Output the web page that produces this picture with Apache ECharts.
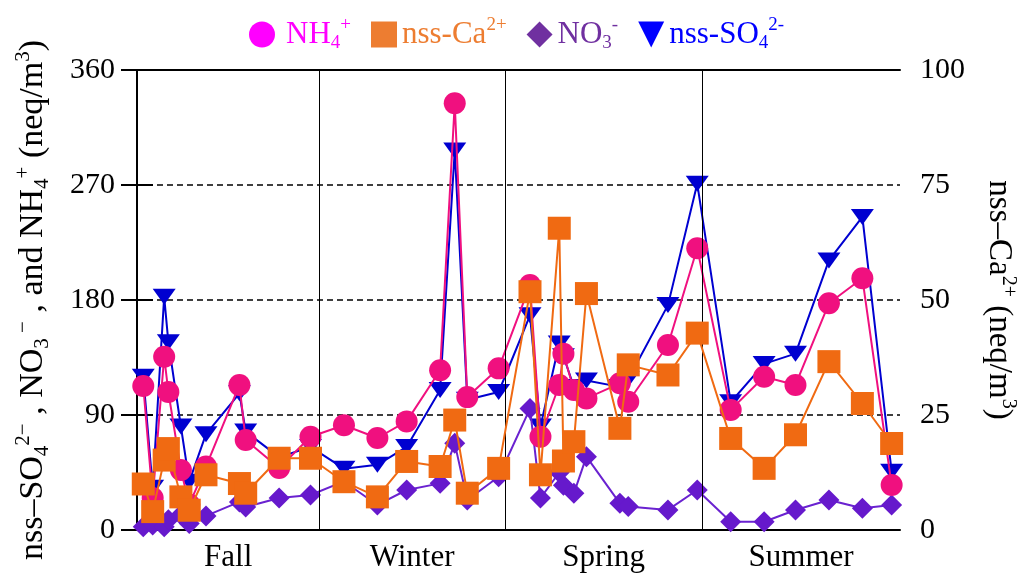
<!DOCTYPE html>
<html><head><meta charset="utf-8">
<script src="https://cdn.jsdelivr.net/npm/echarts@6/dist/echarts.min.js"></script>
<style>html,body{margin:0;padding:0;background:#fff}#c{width:1026px;height:581px}</style>
</head><body><div id="c"></div>
<script>
// x positions: day of the sampling year (0..365)
const seasonNames = ['Fall', 'Winter', 'Spring', 'Summer'];
const seasonCenters = [43.6, 131.6, 223.2, 317.7];
const seasonBounds = [87.1, 176.1, 270.3];
const sampleDays = [3, 7.5, 13, 15, 21, 25, 33, 49, 52, 68, 83,
  99, 115, 129, 145, 152, 158, 173,
  188, 193, 202, 204, 209, 215, 231, 235, 254, 268,
  284, 300, 315, 331, 347, 361];
// left axis (neq/m3)
const nh4 = [112.7, 25, 135.6, 108, 47, 20, 49.6, 113.5, 70.4, 48.5, 73,
  82, 72, 85, 125, 334, 104, 126.5,
  191.7, 73, 113.5, 138, 109.6, 103, 114.8, 100.4, 144.8, 220.5,
  94, 120, 113.5, 177.4, 197, 35.2];
const so4 = [120, 33, 182.6, 147, 81, 37.8, 75, 107, 77, 57, 65,
  48, 51, 65, 109.6, 297, 102, 108,
  168, 81, 146, 136, 112, 117, 112, 118, 176, 271,
  100, 130, 138, 211, 245, 45.6];
const no3 = [2.6, 4, 2.6, 8, 12, 5, 11, 22, 18, 25, 27.4,
  38, 19.6, 31.3, 36.5, 67.8, 23.5, 41.7,
  95, 25, 45, 35, 28.7, 57.4, 20.9, 18.3, 15.7, 31.3,
  6.5, 6.5, 15.7, 23.5, 17, 19.6];
// right axis (neq/m3)
const ca = [10, 4, 15.2, 17.7, 7.2, 4.3, 12, 10.1, 8, 15.6, 15.6,
  10.5, 7.2, 14.9, 13.8, 23.9, 8, 13.4,
  51.8, 12, 65.6, 15, 19.2, 51.4, 22.1, 35.9, 33.7, 42.8,
  19.9, 13.4, 20.7, 36.6, 27.5, 18.8];
const leftTicks = {min: 0, max: 360, interval: 90};
const rightTicks = {min: 0, max: 100, interval: 25};

const FONT = 'Liberation Serif';
const pts = arr => sampleDays.map((d, i) => [d, arr[i]]);
const TRI = 'path://M0,0L20,0L10,14Z';

function richSet(prefix, color, size) {
  const o = {};
  const s = Math.round(size * 0.62);
  o[prefix] = {color, fontSize: size, fontFamily: FONT, lineHeight: size + 6};
  o[prefix + 's'] = {color, fontSize: s, fontFamily: FONT, verticalAlign: 'bottom', lineHeight: s};
  o[prefix + 'p'] = {color, fontSize: s, fontFamily: FONT, verticalAlign: 'top', lineHeight: s};
  return o;
}
const LF = 31;
const legendRich = Object.assign({gap: {width: 6}},
  richSet('m', '#FF00FF', LF), richSet('o', '#ED7D31', LF),
  richSet('u', '#7030A0', LF), richSet('b', '#0000FF', LF));
const legendText = {
  NH4: '{gap|}{m|NH}{ms|4}{mp|+}',
  Ca: '{o|nss-Ca}{op|2+}',
  NO3: '{u|NO}{us|3}{up|-}',
  SO4: '{b|nss-SO}{bs|4}{bp|2-}'
};
const leftRich = richSet('k', '#000', 34);
const rightRich = richSet('k', '#000', 33);

const chart = echarts.init(document.getElementById('c'), null, {renderer: 'canvas'});
chart.setOption({
  animation: false,
  backgroundColor: '#fff',
  grid: {left: 137, right: 118, top: 70, bottom: 51, containLabel: false},
  legend: {
    left: 244, top: 11, itemGap: 20, itemWidth: 26, itemHeight: 26,
    selectedMode: false,
    data: [
      {name: 'NH4', icon: 'circle', itemStyle: {color: '#FF00FF'}},
      {name: 'Ca', icon: 'rect', itemStyle: {color: '#ED7D31'}},
      {name: 'NO3', icon: 'diamond', itemStyle: {color: '#7030A0'}},
      {name: 'SO4', icon: 'path://M0,0L20,0L10,20Z', itemStyle: {color: '#0000FF'}}
    ],
    formatter: n => legendText[n],
    textStyle: {fontFamily: FONT, fontSize: LF, rich: legendRich}
  },
  xAxis: [{
    type: 'value', min: 0, max: 365, position: 'bottom',
    axisLine: {show: true, onZero: false, lineStyle: {color: '#000', width: 2}},
    axisTick: {show: false}, splitLine: {show: false},
    axisLabel: {
      customValues: seasonCenters,
      formatter: v => seasonNames[seasonCenters.indexOf(v)] || '',
      fontFamily: FONT, fontSize: 31, color: '#000', margin: 12
    }
  }, {
    type: 'value', min: 0, max: 365, position: 'top',
    axisLine: {show: true, onZero: false, lineStyle: {color: '#000', width: 2}},
    axisTick: {show: false}, axisLabel: {show: false}, splitLine: {show: false}
  }],
  yAxis: [{
    type: 'value', position: 'left', min: leftTicks.min, max: leftTicks.max, interval: leftTicks.interval,
    name: 'nss–SO{ks|4}{kp|2−} , NO{ks|3}{kp| −} , and NH{ks|4}{kp|+} (neq/m{kp|3})',
    nameLocation: 'middle', nameRotate: 90, nameGap: 84,
    nameTextStyle: {fontFamily: FONT, fontSize: 34, color: '#000', rich: leftRich, lineHeight: 40},
    axisLine: {show: true, lineStyle: {color: '#000', width: 2}},
    axisTick: {show: true, inside: true, length: 16, lineStyle: {color: '#000', width: 2}},
    axisLabel: {fontFamily: FONT, fontSize: 30, color: '#000', margin: 22},
    splitLine: {show: true, lineStyle: {color: '#000', width: 1.5, type: [6, 4]}}
  }, {
    type: 'value', position: 'right', min: rightTicks.min, max: rightTicks.max, interval: rightTicks.interval,
    name: 'nss–Ca{kp|2+} (neq/m{kp|3})',
    nameLocation: 'middle', nameRotate: -90, nameGap: 79,
    nameTextStyle: {fontFamily: FONT, fontSize: 33, color: '#000', rich: rightRich, lineHeight: 39},
    axisLine: {show: true, lineStyle: {color: '#000', width: 2}},
    axisTick: {show: true, inside: true, length: 16, lineStyle: {color: '#000', width: 2}},
    axisLabel: {fontFamily: FONT, fontSize: 30, color: '#000', margin: 20},
    splitLine: {show: false}
  }],
  series: [{
    name: 'SO4', type: 'line', data: pts(so4), yAxisIndex: 0, z: 2,
    symbol: TRI, symbolSize: [23, 16], symbolKeepAspect: false,
    itemStyle: {color: '#0000D0'}, lineStyle: {color: '#0000D0', width: 2},
    emphasis: {disabled: true},
    markLine: {
      silent: true, symbol: ['none', 'none'], label: {show: false},
      lineStyle: {color: '#000', width: 1, type: 'solid'},
      data: seasonBounds.map(v => ({xAxis: v}))
    }
  }, {
    name: 'NO3', type: 'line', data: pts(no3), yAxisIndex: 0, z: 3,
    symbol: 'diamond', symbolSize: [21, 21],
    itemStyle: {color: '#6619CC'}, lineStyle: {color: '#6A22D0', width: 2},
    emphasis: {disabled: true}
  }, {
    name: 'NH4', type: 'line', data: pts(nh4), yAxisIndex: 0, z: 4,
    symbol: 'circle', symbolSize: 22,
    itemStyle: {color: '#F0107F'}, lineStyle: {color: '#F0107F', width: 2},
    emphasis: {disabled: true}
  }, {
    name: 'Ca', type: 'line', data: pts(ca), yAxisIndex: 1, z: 5,
    symbol: 'rect', symbolSize: 23,
    itemStyle: {color: '#F06A12'}, lineStyle: {color: '#F06A12', width: 2},
    emphasis: {disabled: true}
  }]
});
</script>
</body></html>
